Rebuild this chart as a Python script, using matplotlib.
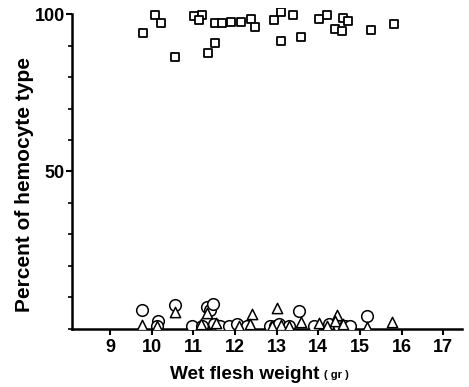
import matplotlib
matplotlib.use("Agg")
import matplotlib.pyplot as plt
from matplotlib.ticker import MultipleLocator

plt.rcParams['font.family'] = ['Liberation Sans', 'DejaVu Sans']
plt.rcParams['font.weight'] = 'bold'

# squares (near 100 %)
sq_x = [9.79, 10.09, 10.23, 10.57, 11.03, 11.21, 11.15, 11.36, 11.53, 11.52,
        11.70, 11.91, 12.15, 12.39, 12.47, 12.93, 13.10, 13.11, 13.40, 13.59,
        14.02, 14.22, 14.41, 14.56, 14.60, 14.71, 15.27, 15.81]
sq_y = [94.1, 99.7, 97.2, 86.4, 99.5, 99.7, 98.1, 87.7, 90.9, 97.2,
        97.0, 97.4, 97.5, 98.4, 95.8, 98.1, 100.5, 91.5, 99.7, 92.6,
        98.4, 99.6, 95.1, 94.6, 98.8, 97.9, 94.9, 96.9]

# circles
ci_x = [9.76, 10.16, 10.12, 10.57, 11.32, 11.40, 11.47, 10.98, 11.22, 11.50,
        11.65, 11.85, 12.05, 12.30, 12.85, 12.95, 13.05, 13.53, 13.30, 13.90,
        14.25, 14.50, 14.65, 14.75, 15.17]
ci_y = [6.0, 2.5, 1.0, 7.7, 7.0, 6.0, 7.9, 0.8, 1.0, 1.5,
        0.8, 1.0, 1.5, 0.8, 0.8, 1.0, 1.5, 5.8, 0.8, 0.8,
        1.5, 1.0, 0.8, 1.0, 4.2]

# triangles
tr_x = [9.76, 10.13, 10.57, 11.32, 11.18, 11.55, 12.10, 12.42, 12.35, 12.90,
        13.02, 13.10, 13.59, 13.30, 14.02, 14.20, 14.46, 14.40, 14.60, 15.17, 15.78]
tr_y = [1.2, 1.0, 5.5, 5.0, 1.5, 1.8, 1.0, 4.8, 1.5, 1.0,
        6.6, 1.2, 2.3, 0.8, 1.8, 1.0, 4.4, 2.5, 1.5, 0.5, 2.3]

fig = plt.figure(figsize=(4.69, 3.87), dpi=100)
ax = fig.add_axes([0.1535, 0.150, 0.8316, 0.830])

ax.scatter(sq_x, sq_y, marker='s', s=36, facecolors='white', edgecolors='black', linewidths=1.3, zorder=3)
ax.scatter(ci_x, ci_y, marker='o', s=70, facecolors='white', edgecolors='black', linewidths=1.1, zorder=3)
ax.scatter(tr_x, tr_y, marker='^', s=55, facecolors='white', edgecolors='black', linewidths=1.1, zorder=3)

ax.set_xlim(8.09, 17.45)
ax.set_ylim(0, 102)
ax.spines['top'].set_visible(False)
ax.spines['right'].set_visible(False)
ax.spines['left'].set_bounds(0, 100)
ax.spines['left'].set_linewidth(1.8)
ax.spines['bottom'].set_linewidth(1.8)

ax.set_xticks(range(9, 18))
ax.set_yticks([50, 100])
ax.yaxis.set_minor_locator(MultipleLocator(10))
ax.tick_params(axis='both', which='major', direction='out', length=4, width=1.5, labelsize=13)
ax.tick_params(axis='y', which='minor', direction='out', length=3, width=1.2)
ax.tick_params(axis='y', which='major', pad=1)

fig.text(24 / 469, 1 - 185 / 387, 'Percent of hemocyte type', rotation=90,
         ha='center', va='center', fontsize=15, fontweight='bold')
fig.text(0.682, 0.02, 'Wet flesh weight', ha='right', va='baseline', fontsize=13.7, fontweight='bold')
fig.text(0.690, 0.024, '( gr )', ha='left', va='baseline', fontsize=8, fontweight='bold')

fig.savefig('out.png', dpi=100)
